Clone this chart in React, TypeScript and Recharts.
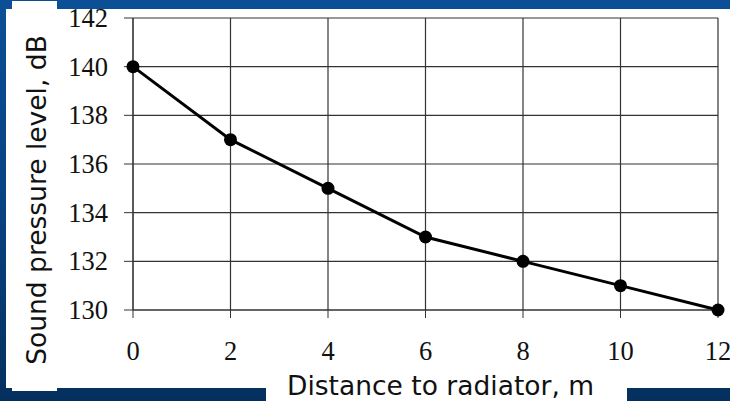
import React from "react";
import {
  LineChart,
  Line,
  XAxis,
  YAxis,
  CartesianGrid,
} from "recharts";

// distance to radiator, m
const distances = [0, 2, 4, 6, 8, 10, 12];
// sound pressure level, dB
const levels = [140, 137, 135, 133, 132, 131, 130];

const xTicks = [0, 2, 4, 6, 8, 10, 12];
const yTicks = [130, 132, 134, 136, 138, 140, 142];

const data = distances.map((d, i) => ({ distance: d, level: levels[i] }));

const serif = '"Liberation Serif", "Times New Roman", serif';
const titleFont = '"DejaVu Sans", Verdana, sans-serif';

const XTick = (props: any) => {
  const { x, y, payload } = props;
  return (
    <text x={x} y={y} dy={18} textAnchor="middle" fontFamily={serif} fontSize={26.5} fill="#111">
      {payload.value}
    </text>
  );
};

const YTick = (props: any) => {
  const { x, y, payload } = props;
  return (
    <text x={x} y={y} dy={9} textAnchor="end" fontFamily={serif} fontSize={26.5} fill="#111">
      {payload.value}
    </text>
  );
};

export default function App() {
  return (
    <div
      style={{
        position: "absolute",
        left: 0,
        top: 0,
        width: 730,
        height: 401,
        overflow: "hidden",
        background: "linear-gradient(180deg, #0b4f96 0%, #084383 50%, #05305e 100%)",
      }}
    >
      {/* white panel */}
      <div style={{ position: "absolute", left: 6, top: 9, width: 724, height: 379, background: "#fff" }} />
      {/* title boxes */}
      <div style={{ position: "absolute", left: 12, top: 1, width: 45, height: 390, background: "#fff" }} />
      <div style={{ position: "absolute", left: 266, top: 360, width: 361, height: 41, background: "#fff" }} />

      <LineChart
        width={730}
        height={401}
        data={data}
        margin={{ top: 18, right: 12, left: 60, bottom: 31 }}
        style={{ position: "absolute", left: 0, top: 0 }}
      >
        <CartesianGrid stroke="#333" strokeWidth={1.2} />
        <XAxis
          dataKey="distance"
          type="number"
          domain={[0, 12]}
          ticks={xTicks}
          height={60}
          tickSize={8}
          tickMargin={24}
          stroke="#333"
          tick={<XTick />}
          interval={0}
        />
        <YAxis
          type="number"
          domain={[130, 142]}
          ticks={yTicks}
          width={73}
          tickSize={9}
          tickMargin={16}
          stroke="#333"
          tick={<YTick />}
          interval={0}
        />
        <Line
          type="linear"
          dataKey="level"
          stroke="#000"
          strokeWidth={3}
          dot={{ r: 6.5, fill: "#000", stroke: "#000", strokeWidth: 0 }}
          isAnimationActive={false}
        />
      </LineChart>

      <div
        style={{
          position: "absolute",
          left: -133,
          top: 185,
          width: 340,
          height: 30,
          lineHeight: "30px",
          textAlign: "center",
          transform: "rotate(-90deg)",
          fontFamily: titleFont,
          fontSize: 26.5,
          color: "#111",
          whiteSpace: "nowrap",
        }}
      >
        Sound pressure level, dB
      </div>
      <div
        style={{
          position: "absolute",
          left: 287,
          top: 371,
          height: 30,
          lineHeight: "30px",
          fontFamily: titleFont,
          fontSize: 26.5,
          color: "#111",
          whiteSpace: "nowrap",
        }}
      >
        Distance to radiator, m
      </div>
    </div>
  );
}
